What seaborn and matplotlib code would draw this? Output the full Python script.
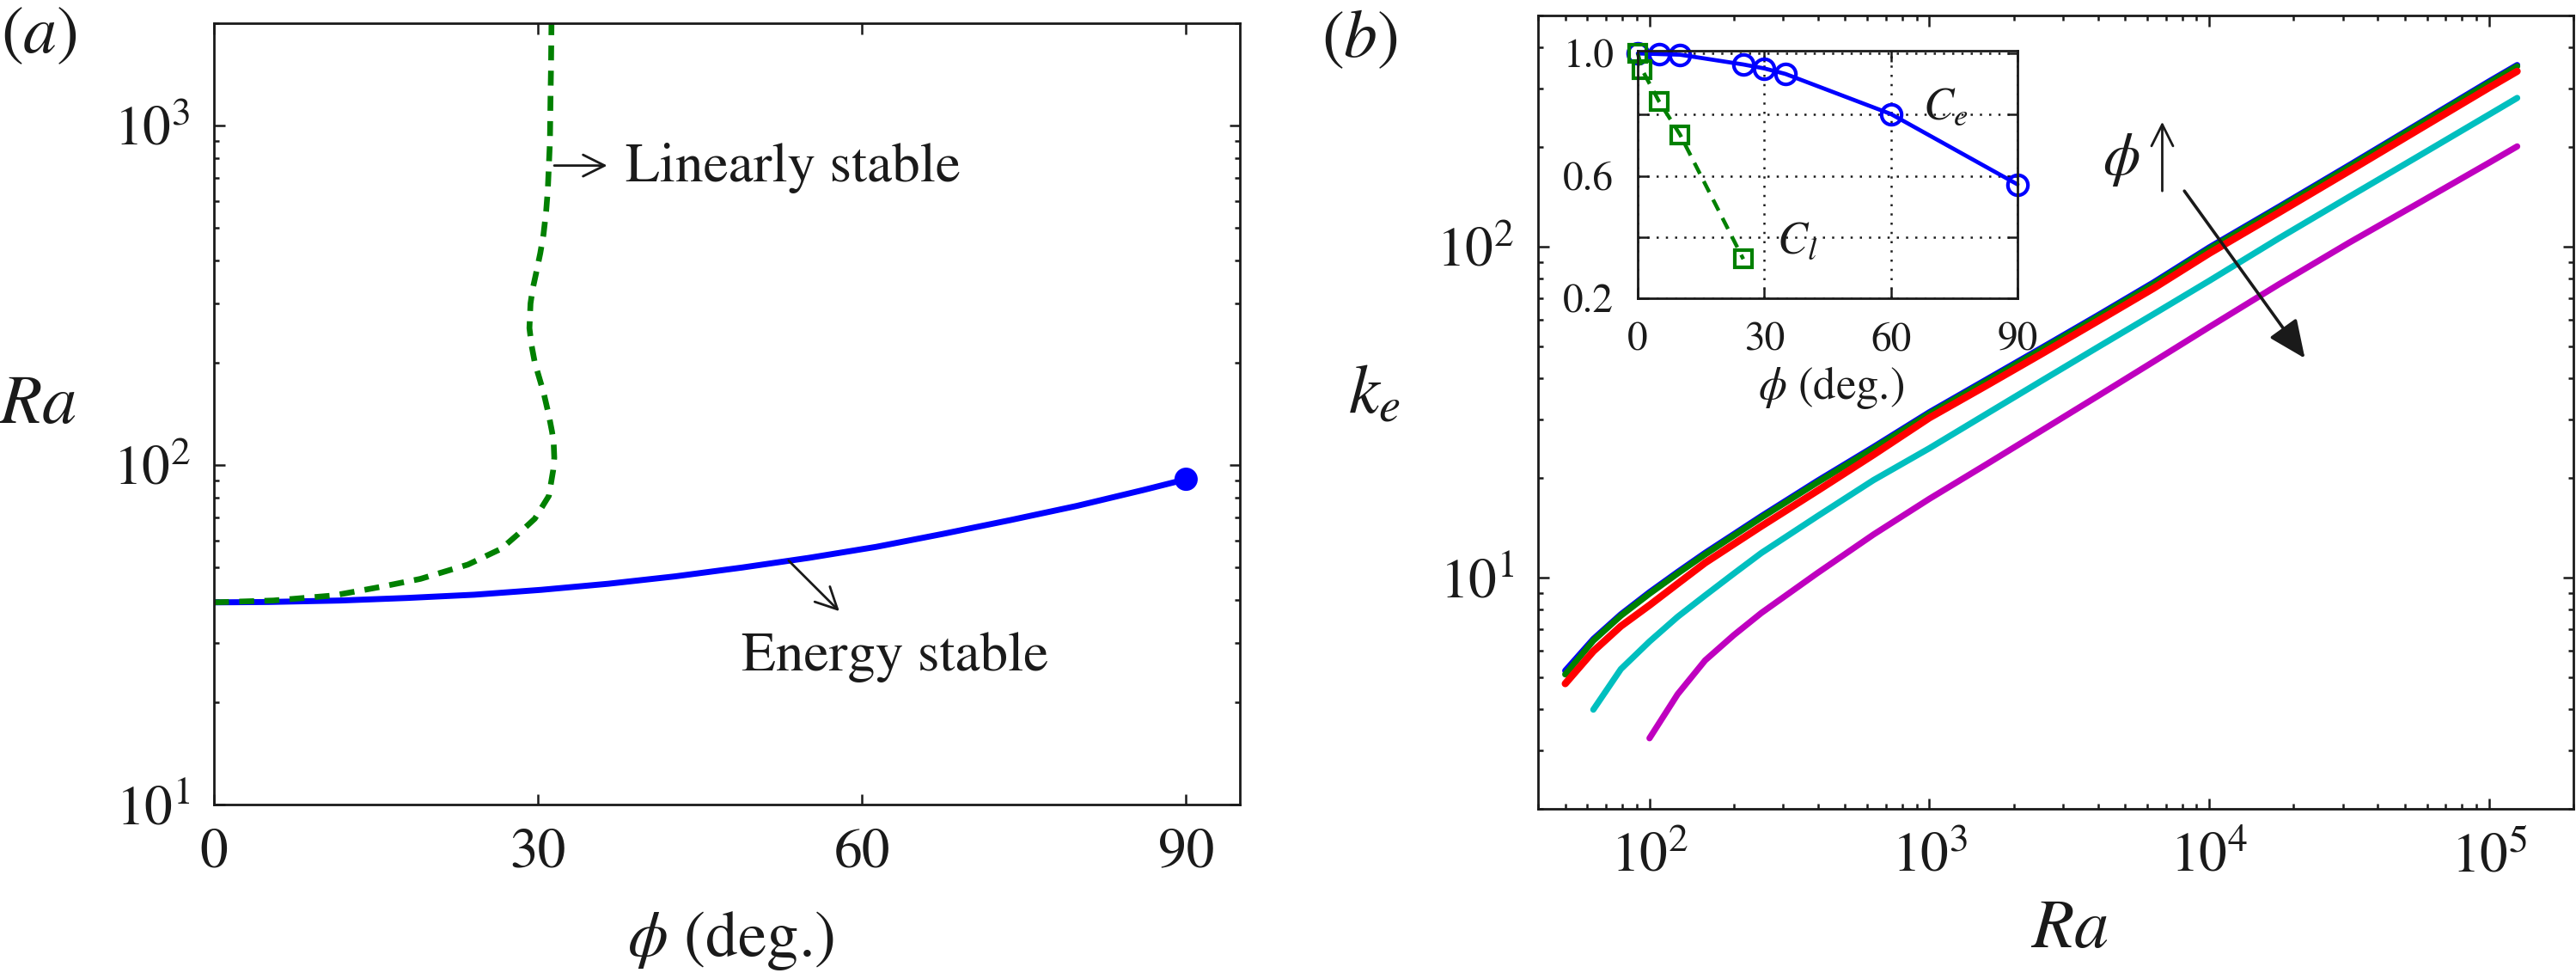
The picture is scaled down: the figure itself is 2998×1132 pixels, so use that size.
import seaborn as sns
import matplotlib.pyplot as plt
from matplotlib.ticker import NullFormatter, FixedLocator, FixedFormatter

# ---- panel (a): stability boundaries Ra(phi) ----
phi_energy = [0, 5, 11.7, 17.9, 24.1, 30.3, 36.5, 42.7, 48.9, 55.1, 61.3, 67.5,
              73.7, 79.9, 86.1, 90]
ra_energy = [39.4, 39.5, 39.9, 40.6, 41.5, 42.9, 44.7, 47.0, 49.9, 53.3, 57.4, 62.7,
             68.8, 75.8, 84.5, 90.8]

phi_linear = [0, 5.5, 11.1, 15.4, 19.1, 23.5, 26.6, 28.1, 29.7, 31.0, 31.4, 31.5,
              31.45, 31.3, 31.0, 30.5, 29.7, 29.4, 29.2, 29.3, 29.5, 29.8, 30.2,
              30.5, 30.75, 30.9, 31.1, 31.15, 31.2, 31.25]
ra_linear = [39.4, 39.9, 41.3, 43.75, 46.2, 50.9, 56.7, 62.4, 69.5, 81.1, 96.6, 105,
             115, 125, 140, 164, 200, 225, 253, 299, 330, 365, 420,
             477, 560, 645, 901, 1200, 1488, 2100]

# ---- panel (b): k_e(Ra) for several phi ----
ra_all = [50, 63, 79, 100, 126, 158, 200, 251, 398, 631, 1000, 1585, 2512, 3981,
          6310, 10000, 17780, 31620, 56230, 100000, 125900]
ke_phi0 = [5.23, 6.52, 7.74, 9.03, 10.39, 11.87, 13.52, 15.33, 19.6, 24.8, 31.6, 39.5,
           49.4, 61.9, 77.9, 99.5, 132.2, 176.3, 236, 316, 354]
ke_phi10 = [5.10, 6.45, 7.67, 8.94, 10.29, 11.75, 13.39, 15.18, 19.4, 24.55, 31.3, 39.1,
            48.9, 61.3, 77.1, 98.5, 131, 174.6, 234, 313, 351]
ke_phi30 = [4.78, 5.99, 7.13, 8.25, 9.58, 11.08, 12.62, 14.3, 18.3, 23.5, 30.4, 37.9,
            47.4, 59.5, 74.8, 95.5, 127, 169.4, 226.5, 302.7, 339]
ra_phi60 = ra_all[1:]
ke_phi60 = [3.99, 5.29, 6.41, 7.61, 8.83, 10.28, 11.87, 15.33, 19.7, 24.6, 31.1,
            39.3, 49.6, 62.5, 78.9, 106.2, 141.6, 188.4, 251, 281.6]
ra_phi90 = ra_all[3:]
ke_phi90 = [3.27, 4.44, 5.62, 6.70, 7.82, 10.32, 13.49, 17.3, 21.9,
            27.8, 35.3, 44.9, 57.2, 77.1, 102.9, 135.8, 179.5, 201]

# ---- inset: C_e and C_l vs phi ----
phi_ce = [0, 5, 10, 25, 30, 35, 60, 90]
ce = [1.0, 0.998, 0.996, 0.964, 0.951, 0.933, 0.802, 0.572]
phi_cl = [0, 1, 5, 10, 25]
cl = [1.0, 0.947, 0.844, 0.735, 0.328]

blue = (0, 0, 1)
green = (0, 0.5, 0)
red = (1, 0, 0)
cyan = (0, 0.75, 0.75)
magenta = (0.75, 0, 0.75)

sns.set_theme(style="ticks")
plt.rcParams['font.family'] = ['STIXGeneral', 'DejaVu Serif']
plt.rcParams['mathtext.fontset'] = 'stix'
for key in ['axes.edgecolor', 'text.color', 'axes.labelcolor', 'xtick.color', 'ytick.color']:
    plt.rcParams[key] = 'k'
plt.rcParams['axes.linewidth'] = 1.0

fig = plt.figure(figsize=(14.99, 5.66), dpi=200)
ax1 = fig.add_axes([0.0831, 0.1731, 0.3983, 0.8030])
ax2 = fig.add_axes([0.5971, 0.1687, 0.4019, 0.8154])
ax3 = fig.add_axes([0.6358, 0.6935, 0.1474, 0.2544])


def style_ticks(ax, size, pad=10):
    ax.tick_params(which='both', direction='in', top=True, right=True,
                   width=0.9, labelsize=size, pad=pad)
    ax.tick_params(which='major', length=4.5)
    ax.tick_params(which='minor', length=2.3)


# panel (a)
ax1.set_yscale('log')
sns.lineplot(x=phi_energy, y=ra_energy, color=blue, lw=2.5, errorbar=None, ax=ax1)
sns.lineplot(x=phi_linear, y=ra_linear, color=green, lw=2.4, sort=False,
             estimator=None, errorbar=None, ax=ax1)
ax1.lines[-1].set_dashes((2.6, 1.8))
sns.scatterplot(x=[phi_energy[-1]], y=[ra_energy[-1]], color=blue, s=95,
                edgecolor='none', ax=ax1, zorder=5)
ax1.set_xlim(0, 95)
ax1.set_ylim(10, 2000)
ax1.set_xticks([0, 30, 60, 90])
ax1.yaxis.set_minor_formatter(NullFormatter())
style_ticks(ax1, 23.5)
ax1.set_xlabel(r'$\phi$ (deg.)', fontsize=27)
ax1.xaxis.set_label_coords(0.504, -0.174)
ax1.xaxis.label.set_va('center')
ax1.set_ylabel(r'$Ra$', fontsize=29, rotation=0)
ax1.yaxis.set_label_coords(-0.1725, 0.509)
ax1.yaxis.label.set_va('center')
ax1.yaxis.label.set_ha('center')

arrow_thin = dict(arrowstyle='->,head_length=0.5,head_width=0.25', lw=1.0,
                  color='k', shrinkA=0, shrinkB=0, mutation_scale=18)
ax1.annotate('', xy=(36.4, 762), xytext=(31.5, 762), arrowprops=arrow_thin)
ax1.text(38.1, 684, 'Linearly stable', fontsize=23.5, ha='left', va='baseline')
ax1.annotate('', xy=(57.9, 37.1), xytext=(53.2, 52.3), arrowprops=arrow_thin)
ax1.text(48.8, 24.9, 'Energy stable', fontsize=23.5, ha='left', va='baseline')

# panel (b)
ax2.set_xscale('log')
ax2.set_yscale('log')
sns.lineplot(x=ra_all, y=ke_phi0, color=blue, lw=2.6, errorbar=None, ax=ax2)
sns.lineplot(x=ra_all, y=ke_phi10, color=green, lw=2.6, errorbar=None, ax=ax2)
sns.lineplot(x=ra_all, y=ke_phi30, color=red, lw=3.0, errorbar=None, ax=ax2)
sns.lineplot(x=ra_phi60, y=ke_phi60, color=cyan, lw=2.6, errorbar=None, ax=ax2)
sns.lineplot(x=ra_phi90, y=ke_phi90, color=magenta, lw=2.6, errorbar=None, ax=ax2)
ax2.set_xlim(40, 2e5)
ax2.set_ylim(2, 500)
ax2.xaxis.set_minor_formatter(NullFormatter())
ax2.yaxis.set_minor_formatter(NullFormatter())
style_ticks(ax2, 23.5)
ax2.set_xlabel(r'$Ra$', fontsize=29)
ax2.xaxis.set_label_coords(0.513, -0.154)
ax2.xaxis.label.set_va('center')
ax2.set_ylabel(r'$k_e$', fontsize=29, rotation=0)
ax2.yaxis.set_label_coords(-0.158, 0.519)
ax2.yaxis.label.set_va('center')
ax2.yaxis.label.set_ha('center')

ax2.text(4848, 182.6, r'$\phi$', fontsize=25, ha='center', va='center')
ax2.annotate('', xy=(6792, 238.5), xytext=(6792, 147.4),
             arrowprops=dict(arrowstyle='->,head_length=0.5,head_width=0.25',
                             lw=1.0, color='k', shrinkA=0, shrinkB=0,
                             mutation_scale=18))
ax2.annotate('', xy=(21960, 46.0), xytext=(8147, 147.4),
             arrowprops=dict(arrowstyle='-|>,head_length=0.45,head_width=0.2',
                             lw=1.3, color='k', shrinkA=0, shrinkB=0,
                             mutation_scale=30))

# inset
ax3.set_facecolor('white')
ax3.set_axisbelow(True)
sns.lineplot(x=phi_ce, y=ce, color=blue, lw=1.7, marker='o', markersize=8.4,
             markerfacecolor='none', markeredgecolor=blue, markeredgewidth=1.5,
             errorbar=None, ax=ax3, clip_on=False)
sns.lineplot(x=phi_cl, y=cl, color=green, lw=1.6, marker='s', markersize=7.4,
             markerfacecolor='none', markeredgecolor=green, markeredgewidth=1.5,
             errorbar=None, ax=ax3, clip_on=False)
ax3.lines[-1].set_linestyle((0, (3.2, 2.2)))
ax3.set_xlim(0, 90)
ax3.set_ylim(0.2, 1.009)
ax3.set_xticks([0, 30, 60, 90])
ax3.yaxis.set_major_locator(FixedLocator([0.2, 0.4, 0.6, 0.8, 1.0]))
ax3.yaxis.set_major_formatter(FixedFormatter(['0.2', '', '0.6', '', '1.0']))
ax3.grid(True, color='k', lw=0.9, linestyle=(0, (1, 3.3)))
style_ticks(ax3, 17)
ax3.set_xlabel(r'$\phi$ (deg.)', fontsize=19)
ax3.xaxis.set_label_coords(0.508, -0.361)
ax3.xaxis.label.set_va('center')
ax3.text(72.9, 0.82, r'$C_e$', fontsize=19, ha='center', va='center')
ax3.text(37.9, 0.383, r'$C_l$', fontsize=19, ha='center', va='center')

fig.text(0.0153, 0.962, r'$(a)$', fontsize=28, ha='center', va='center')
fig.text(0.528, 0.959, r'$(b)$', fontsize=28, ha='center', va='center')

fig.savefig('out.png', dpi=200)
plt.close(fig)
